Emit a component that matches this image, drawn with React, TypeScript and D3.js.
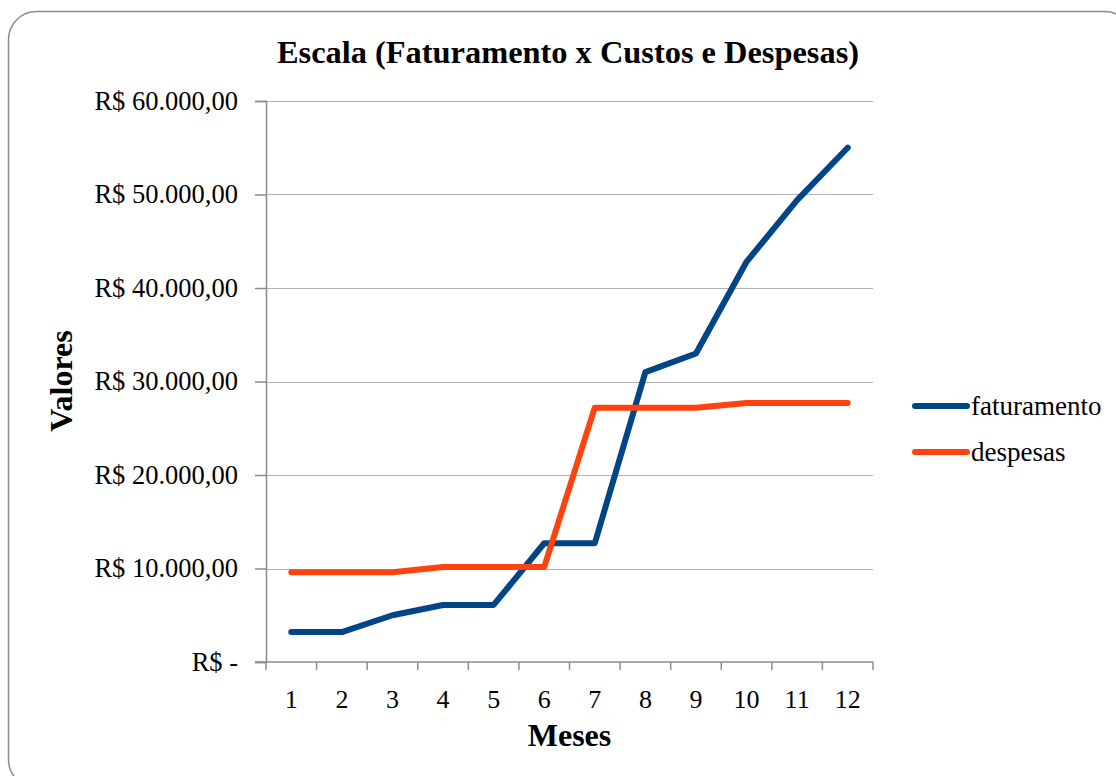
import React, { useRef, useEffect } from 'react';
import * as d3 from 'd3';

const months = ['1', '2', '3', '4', '5', '6', '7', '8', '9', '10', '11', '12'];
const faturamento = [3200, 3200, 5000, 6100, 6100, 12700, 12700, 31000, 33000, 42800, 49400, 55000];
const despesas = [9600, 9600, 9600, 10150, 10150, 10150, 27200, 27200, 27200, 27700, 27700, 27700];
const yTicks = [0, 10000, 20000, 30000, 40000, 50000, 60000];

const series = [
  { name: 'faturamento', values: faturamento, color: '#004586' },
  { name: 'despesas', values: despesas, color: '#ff420e' },
];

const fmt = (v: number) => {
  if (v === 0) return 'R$ -';
  const s = d3.format(',')(v).replace(/,/g, '.');
  return `R$ ${s},00`;
};

const App: React.FC = () => {
  const svgRef = useRef<SVGSVGElement | null>(null);

  useEffect(() => {
    if (!svgRef.current) return;
    const svg = d3.select(svgRef.current);
    svg.selectAll('*').remove();

    const width = 1116;
    const height = 776;
    const margin = { top: 101, right: 243, bottom: 114, left: 266 };
    const innerWidth = width - margin.left - margin.right;
    const innerHeight = height - margin.top - margin.bottom;
    const font = '"Liberation Serif", "Times New Roman", serif';

    // frame
    svg.append('rect')
      .attr('x', 8.5).attr('y', 11.5)
      .attr('width', 1124).attr('height', 776)
      .attr('rx', 28).attr('ry', 28)
      .attr('fill', 'white')
      .attr('stroke', '#8c8c8c')
      .attr('stroke-width', 1.5);

    const chart = svg.append('g').attr('transform', `translate(${margin.left},${margin.top})`);

    const x = d3.scaleBand().domain(months).range([0, innerWidth]).padding(0);
    const y = d3.scaleLinear().domain([0, 60000]).range([innerHeight, 0]);

    // grid
    chart.append('g')
      .selectAll('line')
      .data(yTicks.filter(t => t > 0))
      .join('line')
      .attr('x1', 0).attr('x2', innerWidth)
      .attr('y1', d => Math.round(y(d)) + 0.5).attr('y2', d => Math.round(y(d)) + 0.5)
      .attr('stroke', '#b3b3b3').attr('stroke-width', 1.2);

    // y axis
    const yAxis = chart.append('g')
      .call(d3.axisLeft(y).tickValues(yTicks).tickSize(11).tickPadding(17).tickFormat(d => fmt(d as number)));
    yAxis.select('.domain').attr('stroke', '#8c8c8c').attr('stroke-width', 1.5);
    yAxis.selectAll('.tick line').attr('stroke', '#8c8c8c').attr('stroke-width', 1.5);
    yAxis.selectAll('text')
      .style('font-family', font).style('font-size', '26.5px').attr('fill', '#000');

    // x axis
    const xAxis = chart.append('g').attr('transform', `translate(0,${innerHeight})`);
    xAxis.append('line')
      .attr('x1', -11).attr('x2', innerWidth)
      .attr('stroke', '#8c8c8c').attr('stroke-width', 1.5);
    xAxis.selectAll('.xtick')
      .data(d3.range(months.length + 1))
      .join('line')
      .attr('class', 'xtick')
      .attr('x1', i => i * x.bandwidth()).attr('x2', i => i * x.bandwidth())
      .attr('y1', 0).attr('y2', 8)
      .attr('stroke', '#8c8c8c').attr('stroke-width', 1.5);
    xAxis.selectAll('.xlabel')
      .data(months)
      .join('text')
      .attr('class', 'xlabel')
      .attr('x', d => x(d)! + x.bandwidth() / 2)
      .attr('y', 46)
      .attr('text-anchor', 'middle')
      .style('font-family', font).style('font-size', '26px')
      .text(d => d);

    // lines
    const line = d3.line<number>()
      .x((_, i) => x(months[i])! + x.bandwidth() / 2)
      .y(d => y(d));

    chart.selectAll('.series')
      .data(series)
      .join('path')
      .attr('class', 'series')
      .attr('d', d => line(d.values))
      .attr('fill', 'none')
      .attr('stroke', d => d.color)
      .attr('stroke-width', 6)
      .attr('stroke-linejoin', 'round')
      .attr('stroke-linecap', 'round');

    // title
    svg.append('text')
      .attr('x', 568).attr('y', 63)
      .attr('text-anchor', 'middle')
      .style('font-family', font).style('font-size', '32.4px').style('font-weight', 'bold')
      .text('Escala (Faturamento x Custos e Despesas)');

    svg.append('text')
      .attr('x', margin.left + innerWidth / 2).attr('y', 746)
      .attr('text-anchor', 'middle')
      .style('font-family', font).style('font-size', '32px').style('font-weight', 'bold')
      .text('Meses');

    svg.append('text')
      .attr('transform', `translate(72,381) rotate(-90)`)
      .attr('text-anchor', 'middle')
      .style('font-family', font).style('font-size', '32px').style('font-weight', 'bold')
      .text('Valores');

    // legend
    const legend = svg.append('g').attr('transform', 'translate(915,406)');
    const item = legend.selectAll('g')
      .data(series)
      .join('g')
      .attr('transform', (_, i) => `translate(0,${i * 46})`);
    item.append('line')
      .attr('x1', 0).attr('x2', 52)
      .attr('stroke', d => d.color)
      .attr('stroke-width', 6)
      .attr('stroke-linecap', 'round');
    item.append('text')
      .attr('x', 56).attr('y', 9)
      .style('font-family', font).style('font-size', '27px')
      .text(d => d.name);
  }, []);

  return (
    <svg ref={svgRef} width={1116} height={776}
      style={{ position: 'absolute', left: 0, top: 0, background: 'white' }} />
  );
};

export default App;
